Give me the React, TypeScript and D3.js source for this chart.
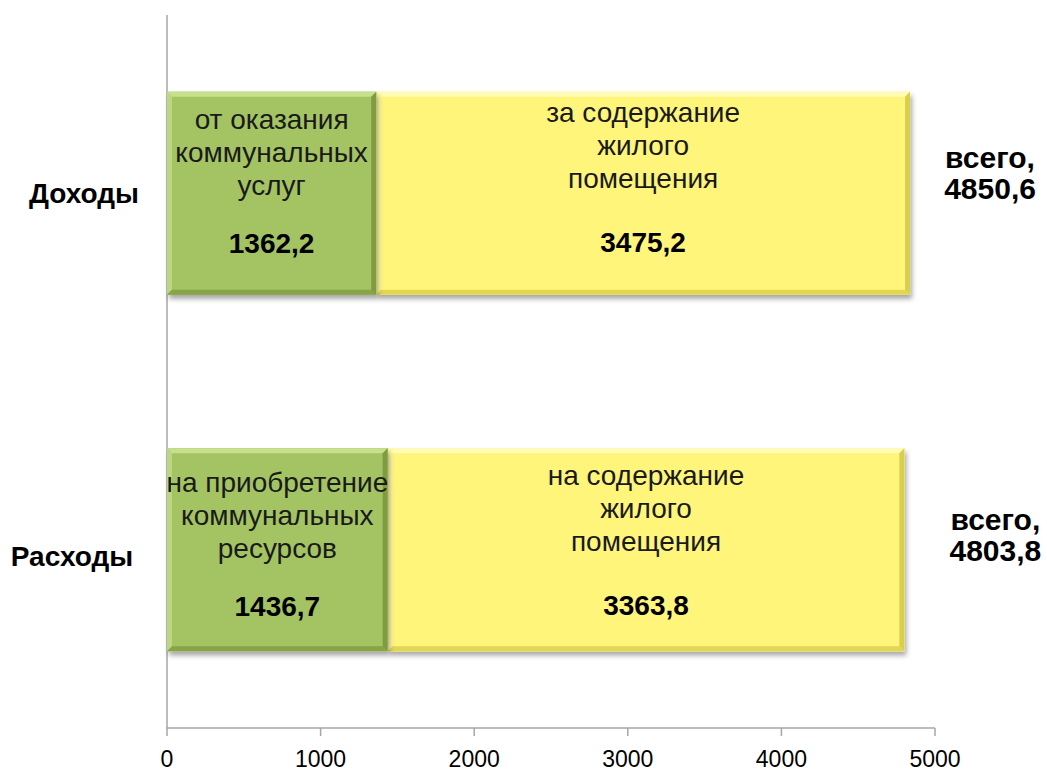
import React from "react";
import * as d3 from "d3";

const categories = ["Доходы", "Расходы"];
const greenValues = [1362.2, 1436.7];
const yellowValues = [3475.2, 3363.8];
const totals = ["4850,6", "4803,8"];
const greenLabels = [
  ["от оказания", "коммунальных", "услуг"],
  ["на приобретение", "коммунальных", "ресурсов"],
];
const yellowLabels = [
  ["за содержание", "жилого", "помещения"],
  ["на содержание", "жилого", "помещения"],
];
const greenValueLabels = ["1362,2", "1436,7"];
const yellowValueLabels = ["3475,2", "3363,8"];
const xTicks = [0, 1000, 2000, 3000, 4000, 5000];

const W = 1047;
const H = 771;
const M = { left: 167, right: 112, top: 15, bottom: 43 };
const FONT = "'Liberation Sans', Arial, sans-serif";
const catShift = [-3, 3];
const catLabelCenter = [84, 72];
const totalShift = [80, 91];

function BevelRect({ x, y, w, h, fill, light, dark }: any) {
  const b = 5;
  return (
    <g>
      <rect x={x} y={y} width={w} height={h} fill={fill} filter="url(#shadow)" />
      <polygon points={`${x},${y} ${x + w},${y} ${x + w - b},${y + b} ${x + b},${y + b}`} fill={light} />
      <polygon points={`${x},${y} ${x + b},${y + b} ${x + b},${y + h - b} ${x},${y + h}`} fill={light} opacity={0.7} />
      <polygon points={`${x + w},${y} ${x + w},${y + h} ${x + w - b},${y + h - b} ${x + w - b},${y + b}`} fill={dark} />
      <polygon points={`${x},${y + h} ${x + w},${y + h} ${x + w - b},${y + h - b} ${x + b},${y + h - b}`} fill={dark} opacity={0.8} />
    </g>
  );
}

export default function App() {
  const x = d3.scaleLinear().domain([0, 5000]).range([M.left, W - M.right]);
  const y = d3.scaleBand().domain(categories).range([M.top, H - M.bottom]).paddingInner(0.43).paddingOuter(0.215);
  const axisY = H - M.bottom;
  const lineOffsets = [-78, -45, -12];
  const greenLineShift = 7;
  const valueOffset = 52;

  return (
    <svg width={W} height={H} style={{ position: "absolute", left: 0, top: 0, background: "#fff" }}>
      <defs>
        <filter id="shadow" x="-5%" y="-10%" width="110%" height="130%">
          <feDropShadow dx="2" dy="4" stdDeviation="2.5" floodColor="#000" floodOpacity="0.35" />
        </filter>
      </defs>
      <rect width={W} height={H} fill="#fff" />
      <line x1={x(0)} x2={x(0)} y1={M.top} y2={axisY} stroke="#a6a6a6" strokeWidth={1.5} />
      <line x1={x(0)} x2={x(5000)} y1={axisY} y2={axisY} stroke="#a6a6a6" strokeWidth={1.5} />
      {xTicks.map((t) => (
        <g key={t}>
          <line x1={x(t)} x2={x(t)} y1={axisY} y2={axisY + 8} stroke="#a6a6a6" strokeWidth={1.5} />
          <text x={x(t)} y={axisY + 39} textAnchor="middle" fontFamily={FONT} fontSize={23} fill="#000">
            {t}
          </text>
        </g>
      ))}
      {categories.map((c, i) => {
        const by = y(c)!;
        const bh = y.bandwidth();
        const cy = by + bh / 2 + catShift[i];
        const gx0 = x(0);
        const gx1 = x(greenValues[i]);
        const yx1 = x(greenValues[i] + yellowValues[i]);
        const gcx = (gx0 + gx1) / 2;
        const ycx = (gx1 + yx1) / 2;
        return (
          <g key={c}>
            <BevelRect x={gx1} y={by} w={yx1 - gx1} h={bh} fill="#fff57a" light="#fffbb8" dark="#d9cf4a" />
            <BevelRect x={gx0} y={by} w={gx1 - gx0} h={bh} fill="#a4c463" light="#c6e08e" dark="#7f9c40" />
            {greenLabels[i].map((l, j) => (
              <text key={"g" + j} x={gcx} y={cy + lineOffsets[j] + greenLineShift} dy="0.35em" textAnchor="middle" fontFamily={FONT} fontSize={28} fill="#1a1a1a">
                {l}
              </text>
            ))}
            <text x={gcx} y={cy + valueOffset + 1} dy="0.35em" textAnchor="middle" fontFamily={FONT} fontSize={28} fontWeight="bold" fill="#000">
              {greenValueLabels[i]}
            </text>
            {yellowLabels[i].map((l, j) => (
              <text key={"y" + j} x={ycx} y={cy + lineOffsets[j]} dy="0.35em" textAnchor="middle" fontFamily={FONT} fontSize={28} fill="#1a1a1a">
                {l}
              </text>
            ))}
            <text x={ycx} y={cy + valueOffset} dy="0.35em" textAnchor="middle" fontFamily={FONT} fontSize={28} fontWeight="bold" fill="#000">
              {yellowValueLabels[i]}
            </text>
            <text x={catLabelCenter[i]} y={cy + 3} dy="0.35em" textAnchor="middle" fontFamily={FONT} fontSize={28} fontWeight="bold" fill="#000">
              {c}
            </text>
            <text x={yx1 + totalShift[i]} y={cy - 33} dy="0.35em" textAnchor="middle" fontFamily={FONT} fontSize={30} fontWeight="bold" fill="#000">
              всего,
            </text>
            <text x={yx1 + totalShift[i]} y={cy - 2} dy="0.35em" textAnchor="middle" fontFamily={FONT} fontSize={30} fontWeight="bold" fill="#000">
              {totals[i]}
            </text>
          </g>
        );
      })}
    </svg>
  );
}
